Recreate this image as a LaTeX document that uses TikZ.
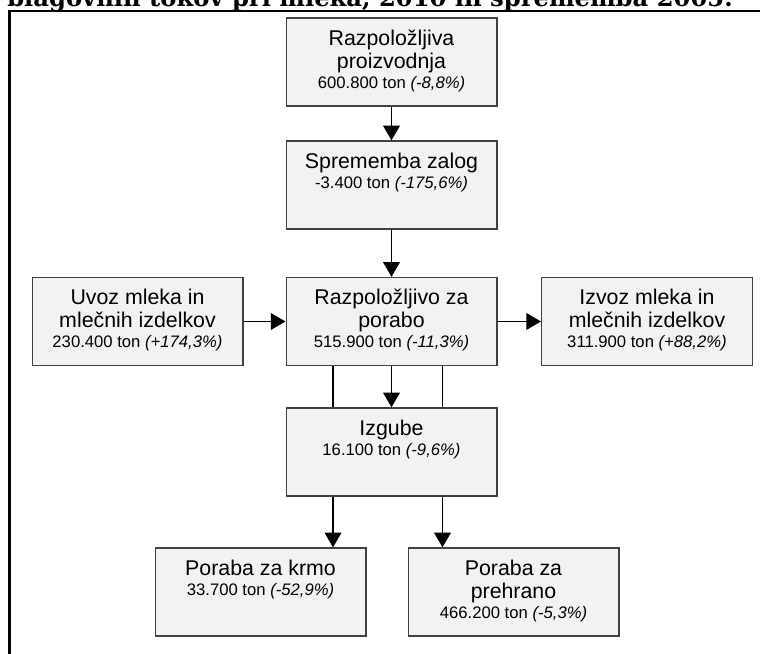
\documentclass[tikz,border=0pt]{standalone}
\usepackage{fontspec}
\setmainfont{Liberation Sans}
\newfontfamily\headfont{DejaVu Serif}
\usepackage{graphicx,xcolor}
\definecolor{blokfill}{RGB}{242,242,242}
\definecolor{blokline}{RGB}{64,64,64}
\usetikzlibrary{arrows.meta,calc}

% box contents: text hangs from the top of a fixed-size box
\newcommand{\bloktext}[1]{\parbox[t][66pt][t]{158pt}{\centering\rule{0pt}{20.25pt}#1}}
\newcommand{\kol}[2]{{\fontsize{12.5}{15}\selectfont #1 ton \textit{(#2)}}}

\begin{document}
\begin{tikzpicture}[x=0.75pt,y=-0.75pt,
  blok/.style={draw=blokline,fill=blokfill,line width=1pt,inner sep=0pt,font=\fontsize{16}{17.25}\selectfont},
  arr/.style={-{Triangle[width=12.5pt,length=11pt]},line width=1.1pt}]
  \useasboundingbox (0,0) rectangle (760,653);
  \clip (0,0) rectangle (760,653);
  \draw[line width=1.9pt] (9.5,11) rectangle (800,700);
  \node[anchor=base west,inner sep=0pt] (naslov) at (7,7) {\resizebox{544pt}{!}{\headfont\bfseries blagovnih tokov pri mleka, 2010 in sprememba 2005.}};
  \node[blok] (proizv) at (391.5,62) {\bloktext{Razpoložljiva\\proizvodnja\\[-2.25pt]\kol{600.800}{-8,8\%}}};
  \node[blok] (zaloge) at (391.5,185) {\bloktext{Sprememba zalog\\[-2.25pt]\kol{-3.400}{-175,6\%}}};
  \node[blok] (poraba) at (391.5,321.5) {\bloktext{Razpoložljivo za\\porabo\\[-2.25pt]\kol{515.900}{-11,3\%}}};
  \node[blok] (uvoz) at (137.5,321.5) {\bloktext{Uvoz mleka in\\mlečnih izdelkov\\[-2.25pt]\kol{230.400}{+174,3\%}}};
  \node[blok] (izvoz) at (647,321.5) {\bloktext{Izvoz mleka in\\mlečnih izdelkov\\[-2.25pt]\kol{311.900}{+88,2\%}}};
  \node[blok] (izgube) at (391.5,452) {\bloktext{Izgube\\[-2.25pt]\kol{16.100}{-9,6\%}}};
  \node[blok] (krmo) at (260.5,592) {\bloktext{Poraba za krmo\\[-2.25pt]\kol{33.700}{-52,9\%}}};
  \node[blok] (prehrana) at (513.5,592) {\bloktext{Poraba za\\prehrano\\[-2.25pt]\kol{466.200}{-5,3\%}}};
  \draw[arr] (proizv) -- (zaloge);
  \draw[arr] (zaloge) -- (poraba);
  \draw[arr] (uvoz) -- (poraba);
  \draw[arr] (poraba) -- (izvoz);
  \draw[arr] (poraba) -- (izgube);
  % side links poraba -> izgube, then on to the two uses
  \coordinate (l1) at ($(poraba.south)+(-58.5,0)$);
  \coordinate (l2) at ($(poraba.south)+(51,0)$);
  \draw[line width=1.1pt] (l1) -- (l1 |- izgube.north);
  \draw[line width=1.1pt] (l2) -- (l2 |- izgube.north);
  \coordinate (k1) at ($(izgube.south)+(-58.5,0)$);
  \coordinate (k2) at ($(izgube.south)+(51,0)$);
  \draw[arr] (k1) -- (k1 |- krmo.north);
  \draw[arr] (k2) -- (k2 |- prehrana.north);
\end{tikzpicture}
\end{document}
